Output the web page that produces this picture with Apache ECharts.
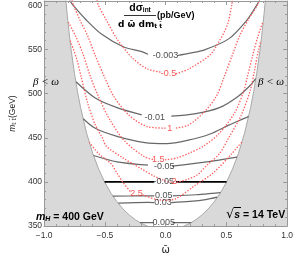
<!DOCTYPE html>
<html><head><meta charset="utf-8">
<script src="https://cdn.jsdelivr.net/npm/echarts@6/dist/echarts.min.js"></script>
<style>html,body{margin:0;padding:0;background:#fff}#c{width:296px;height:260px}</style>
</head><body><div id="c"></div>
<script>
// ---- data ----
const xTickValues = [-1, -0.5, 0, 0.5, 1];
const yTickValues = [350, 400, 450, 500, 550, 600];

// kinematic boundary beta = |omega| (shaded where beta < omega)
const boundaryOmega = [-1,-0.85,-0.82,-0.81,-0.8,-0.79,-0.775,-0.75,-0.725,-0.7,-0.65,-0.6,-0.55,-0.5,-0.45,-0.4,-0.35,-0.3,-0.25,-0.2,-0.15,-0.1,0,0.1,0.15,0.2,0.25,0.3,0.35,0.4,0.45,0.5,0.55,0.6,0.65,0.7,0.725,0.75,0.775,0.79,0.8,0.81,0.82,0.85,1];
const boundaryM     = [700,657,604.5,590,576.7,564.3,547.5,523.1,502.4,484.5,455.3,432.5,414.3,399.5,387.4,377.5,369.4,362.7,357.3,353.1,350,347.7,346,347.7,350,353.1,357.3,362.7,369.4,377.5,387.4,399.5,414.3,432.5,455.3,484.5,502.4,523.1,547.5,564.3,576.7,590,604.5,657,700];

// gray interference contours [omega, m]; null = gap for the inline label
const contourM0003 = [[-0.79,606],[-0.76,600],[-0.655,583.8],[-0.528,567.5],[-0.349,553.1],[-0.196,547.7],[-0.145,544.7],null,[0.098,543.3],[0.2,546],[0.315,549.4],[0.519,562.1],[0.672,583.8],[0.749,600],[0.775,606]];
const contourM001  = [[-0.737,513.5],[-0.579,495.1],[-0.4,484.2],[-0.196,476],null,[0.047,474.5],[0.238,477.1],[0.443,484.2],[0.596,496.9],[0.698,509.6],[0.742,517]];
const contourM003  = [[-0.678,471.6],[-0.579,460.8],[-0.4,451.7],[-0.17,444.5],[0.008,443.4],[0.187,447.3],[0.366,454.3],[0.519,464.4],[0.672,473.4],[0.683,474.5]];
const contourM005  = [[-0.593,430],[-0.4,422.8],[-0.145,419.1],null,[0.054,418],[0.34,422.8],[0.589,428.2]];
const contourP005  = [[-0.434,384],[-0.2,384.2],[-0.093,384.3],null,[0.06,384.3],[0.25,385.5],[0.38,387],[0.452,388]];
const contourP003  = [[-0.389,376],[-0.145,376.8],[-0.093,376.7],null,[0.047,376.7],[0.2,378],[0.33,380],[0.425,382.8]];
const contourP0005 = [[-0.211,354],[-0.1,353.9],null,[0.055,353.9],[0.211,354]];
const contourMH    = [[-0.502,400],[-0.093,400],null,[0.085,400],[0.502,400]];

// red dotted contours
const redM05 = [[-0.565,606],[-0.553,600],[-0.489,583.8],[-0.4,562.1],[-0.273,540.4],[-0.15,528],[-0.04,524.5],null,[0.085,522.5],[0.187,527.7],[0.366,544],[0.437,558.5],[0.481,569.4],[0.514,580.2],[0.544,600],[0.55,606]];
const red1   = [[-0.77,606],[-0.757,600],[-0.706,583.8],[-0.642,565.7],[-0.581,544],[-0.502,518.6],[-0.426,496.9],[-0.298,475.2],[-0.145,462.5],[0.005,461],null,[0.085,461],[0.187,464.4],[0.315,478.8],[0.417,496.9],[0.481,518.6],[0.55,544],[0.61,565.7],[0.68,583.8],[0.755,600],[0.77,606]];
const red15  = [[-0.8,581],[-0.74,565],[-0.68,545],[-0.617,518.6],[-0.553,496.9],[-0.464,471.6],[-0.336,446.2],[-0.17,428.2],[-0.1,425.5],null,[-0.005,425],[0.1,427.5],[0.2,433],[0.315,440.8],[0.443,455.3],[0.57,478.8],[0.646,504.2],[0.672,518.6],[0.72,545],[0.76,565],[0.8,581]];
const red2   = [[-0.785,560],[-0.733,540],[-0.694,518.6],[-0.642,489.7],[-0.579,464.8],[-0.52,450],[-0.489,440.8],[-0.349,427],[-0.2,415],[-0.1,407],[0,401],[0.055,399.5],null,[0.09,399.5],[0.18,403],[0.263,408.2],[0.34,419],[0.443,432],[0.519,449.9],[0.621,475.2],[0.698,504.2],[0.73,525],[0.765,550],[0.785,560]];
const red25  = [[-0.628,445],[-0.55,432],[-0.451,420.9],[-0.4,410],[-0.349,399.2],[-0.285,388.3],null,[-0.19,385.3],[-0.068,380],[0,379.5],[0.085,381.1],[0.238,395.6],[0.391,410.2],[0.544,431.9],[0.6,441],[0.628,445]];

// inline contour labels
const grayLabelText  = ['-0.003','-0.01','-0.05','-0.05','0.05','0.03','0.005'];
const grayLabelOmega = [0.0,-0.089,-0.01,-0.016,-0.015,-0.022,-0.015];
const grayLabelM     = [543.5,473.5,418,400,384.5,376.7,354];
const redLabelText   = ['-0.5','1','1.5','2','2.5'];
const redLabelOmega  = [0.024,0.034,-0.06,0.072,-0.24];
const redLabelM      = [522.5,461,425.5,400,386.8];

// ---- chart ----
function segments(arr){const out=[];let cur=[];arr.forEach(p=>{if(p===null){if(cur.length)out.push(cur);cur=[];}else cur.push(p);});if(cur.length)out.push(cur);return out;}
const series = [];
series.push({type:'line', data: boundaryOmega.map((w,i)=>[w,boundaryM[i]]), symbol:'none', clip:true, z:1,
  lineStyle:{color:'#a9a9a9', width:1}, areaStyle:{color:'#d9d9d9', opacity:1, origin:'start'}, silent:true});
function addLines(arr, style, z){segments(arr).forEach(s=>series.push({type:'line', data:s, symbol:'none', smooth:0.3, clip:true, z:z, lineStyle:style, silent:true}));}
const grayStyle = {color:'#686868', width:1.2};
[contourM0003, contourM001, contourM003, contourM005, contourP005, contourP003, contourP0005].forEach(c=>addLines(c, grayStyle, 3));
addLines(contourMH, {color:'#000', width:1.8}, 4);
const redStyle = {color:'#ff5c5c', width:1.3, type:[1.4,1.6]};
[redM05, red1, red15, red2, red25].forEach(c=>addLines(c, redStyle, 5));
series.push({type:'scatter', symbolSize:0, z:8, silent:true,
  data: grayLabelText.map((t,i)=>({value:[grayLabelOmega[i],grayLabelM[i]], label:{formatter:t}})),
  label:{show:true, position:'inside', fontSize:9, color:'#1a1a1a', fontFamily:'Liberation Sans'}});
series.push({type:'scatter', symbolSize:0, z:8, silent:true,
  data: redLabelText.map((t,i)=>({value:[redLabelOmega[i],redLabelM[i]], label:{formatter:t}})),
  label:{show:true, position:'inside', fontSize:9, color:'#f02828', fontFamily:'Liberation Sans'}});

const axCol = '#999';
const fmtX = v => (v<0?'\u2212':'') + Math.abs(v).toFixed(1);
function xAx(pos, labels){return {type:'value', min:xTickValues[0], max:xTickValues[xTickValues.length-1], interval:0.5, position:pos, z:10,
  axisLine:{show:true, onZero:false, lineStyle:{color:axCol, width:1}},
  axisTick:{show:true, inside:true, length:4, lineStyle:{color:axCol}},
  minorTick:{show:true, splitNumber:5, length:2, lineStyle:{color:axCol}},
  splitLine:{show:false},
  axisLabel:{show:labels, margin:5, fontSize:8.5, color:'#333', fontFamily:'Liberation Sans', formatter:fmtX},
  name: labels ? '\u03c9\u0304' : '', nameLocation:'middle', nameGap:14,
  nameTextStyle:{fontSize:10, color:'#222', fontFamily:'DejaVu Sans'}};}
function yAx(pos, labels){return {type:'value', min:yTickValues[0], max:605, interval:50, position:pos, z:10,
  axisLine:{show:true, onZero:false, lineStyle:{color:axCol, width:1}},
  axisTick:{show:true, inside:true, length:4, lineStyle:{color:axCol}},
  minorTick:{show:true, splitNumber:5, length:2, lineStyle:{color:axCol}},
  splitLine:{show:false},
  axisLabel:{show:labels, margin:2, fontSize:8.5, color:'#333', fontFamily:'Liberation Sans', showMaxLabel:false,
    formatter: v => (yTickValues.indexOf(v) >= 0 ? String(v) : '')},
  name: labels ? '{m|m}{s|t t\u0304}{g|(GeV)}' : '', nameLocation:'middle', nameGap:15, nameRotate:90,
  nameTextStyle:{rich:{m:{fontSize:8.5, fontStyle:'italic', fontFamily:'Liberation Sans', color:'#222'},
    s:{fontSize:6, fontFamily:'DejaVu Sans', color:'#222', verticalAlign:'bottom', lineHeight:6},
    g:{fontSize:8.5, fontFamily:'Liberation Sans', color:'#222'}}}};}

const chart = echarts.init(document.getElementById('c'));
chart.setOption({
  animation:false,
  grid:{left:28.3, right:6.4, top:1, bottom:24.5, containLabel:false},
  xAxis:[xAx('bottom', true), xAx('top', false)],
  yAxis:[yAx('left', true), yAx('right', false)],
  series: series,
  graphic:[
    {type:'text', z:50, style:{x:140, y:8, text:'{a|d\u03c3}{s|int}', textAlign:'center', textVerticalAlign:'middle', align:'center', verticalAlign:'middle',
      rich:{a:{fontSize:10.5, fontWeight:'bold', fontFamily:'Liberation Sans', fill:'#000', color:'#000'}, s:{fontSize:6.5, fontWeight:'bold', fontFamily:'Liberation Sans', fill:'#000', color:'#000', verticalAlign:'bottom', lineHeight:8}}}},
    {type:'line', z:50, shape:{x1:124, y1:15.5, x2:156, y2:15.5}, style:{stroke:'#000', lineWidth:0.8}},
    {type:'text', z:50, style:{x:140, y:24.5, text:'{a|d \u03c9\u0304 dm}{s|t t\u0304}', textAlign:'center', textVerticalAlign:'middle', align:'center', verticalAlign:'middle',
      rich:{a:{fontSize:9, fontWeight:'bold', fontFamily:'DejaVu Sans', fill:'#000', color:'#000'}, s:{fontSize:6, fontWeight:'bold', fontFamily:'DejaVu Sans', fill:'#000', color:'#000', verticalAlign:'bottom', lineHeight:8}}}},
    {type:'text', z:50, style:{x:157, y:15.5, text:'(pb/GeV)', font:'bold 9px "Liberation Sans"', fill:'#000', textAlign:'left', textVerticalAlign:'middle', align:'left', verticalAlign:'middle'}},
    {type:'text', z:50, style:{x:46, y:82, text:'\u03b2 < \u03c9', font:'italic 11px "Liberation Serif"', fill:'#000', textAlign:'center', textVerticalAlign:'middle', align:'center', verticalAlign:'middle'}},
    {type:'text', z:50, style:{x:271, y:82, text:'\u03b2 < \u03c9', font:'italic 11px "Liberation Serif"', fill:'#000', textAlign:'center', textVerticalAlign:'middle', align:'center', verticalAlign:'middle'}},
    {type:'text', z:50, style:{x:36, y:217, text:'{m|m}{s|H}{b| = 400 GeV}', textAlign:'left', textVerticalAlign:'middle', align:'left', verticalAlign:'middle',
      rich:{m:{fontSize:10.5, fontWeight:'bold', fontStyle:'italic', fontFamily:'Liberation Sans', fill:'#000', color:'#000'},
            s:{fontSize:7, fontWeight:'bold', fontStyle:'italic', fontFamily:'Liberation Sans', fill:'#000', color:'#000', verticalAlign:'bottom', lineHeight:9},
            b:{fontSize:10.5, fontWeight:'bold', fontFamily:'Liberation Sans', fill:'#000', color:'#000'}}}},
    {type:'text', z:50, style:{x:226, y:215, text:'{r|\u221a}{s|s}{b| = 14 TeV}', textAlign:'left', textVerticalAlign:'middle', align:'left', verticalAlign:'middle',
      rich:{r:{fontSize:13, fontFamily:'DejaVu Sans', fill:'#000', color:'#000'},
            s:{fontSize:10.5, fontWeight:'bold', fontStyle:'italic', fontFamily:'Liberation Sans', fill:'#000', color:'#000'},
            b:{fontSize:10.5, fontWeight:'bold', fontFamily:'Liberation Sans', fill:'#000', color:'#000'}}}},
    {type:'line', z:50, shape:{x1:234, y1:207.5, x2:241, y2:207.5}, style:{stroke:'#000', lineWidth:1}}
  ]
});
</script>
</body></html>
